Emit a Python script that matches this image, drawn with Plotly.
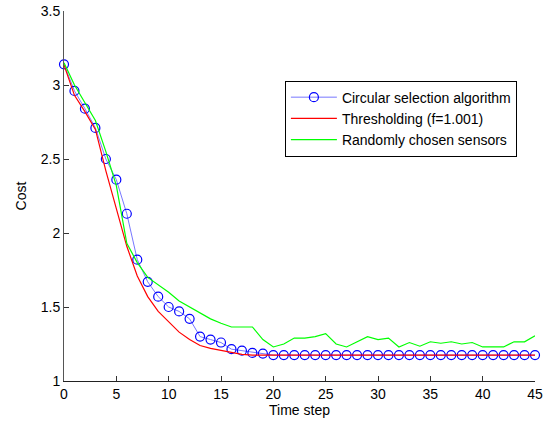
import plotly.graph_objects as go

time_steps = list(range(46))

circular = [3.14, 2.96, 2.84, 2.71, 2.50, 2.36, 2.13, 1.82, 1.67, 1.57,
            1.50, 1.47, 1.42, 1.30, 1.28, 1.26, 1.215, 1.205, 1.19, 1.185] + [1.175] * 26

thresholding = [3.135, 2.93, 2.82, 2.70, 2.42, 2.16, 1.91, 1.71, 1.57, 1.47,
                1.40, 1.33, 1.28, 1.24, 1.22, 1.205, 1.19, 1.18, 1.175] + [1.175] * 27

random_sensors = [3.15, 3.00, 2.88, 2.76, 2.55, 2.32, 1.93, 1.80, 1.70, 1.65,
                  1.60, 1.54, 1.50, 1.46, 1.42, 1.39, 1.365, 1.365, 1.365, 1.28,
                  1.23, 1.25, 1.29, 1.29, 1.30, 1.32, 1.25, 1.23, 1.265, 1.30,
                  1.28, 1.29, 1.23, 1.26, 1.235, 1.265, 1.255, 1.265, 1.25, 1.26,
                  1.23, 1.23, 1.23, 1.265, 1.265, 1.305]

x_ticks = [0, 5, 10, 15, 20, 25, 30, 35, 40, 45]
y_ticks = [1, 1.5, 2, 2.5, 3, 3.5]

fig = go.Figure()
fig.add_trace(go.Scatter(
    x=time_steps, y=circular, mode="lines+markers",
    name="Circular selection algorithm",
    line=dict(color="#7777ff", width=1),
    marker=dict(symbol="circle-open", size=9, color="#0000ff", line=dict(width=1.2)),
    cliponaxis=False,
))
fig.add_trace(go.Scatter(
    x=time_steps, y=thresholding, mode="lines",
    name="Thresholding (f=1.001)",
    line=dict(color="#ff0000", width=1.2),
    cliponaxis=False,
))
fig.add_trace(go.Scatter(
    x=time_steps, y=random_sensors, mode="lines",
    name="Randomly chosen sensors",
    line=dict(color="#00ff00", width=1.2),
    cliponaxis=False,
))

fig.update_layout(
    width=549, height=423,
    margin=dict(l=64, r=14, t=11, b=42, autoexpand=False),
    paper_bgcolor="white", plot_bgcolor="white",
    font=dict(family="Liberation Sans, Arial, sans-serif", size=14, color="#000000"),
    showlegend=True,
    legend=dict(
        x=0.469, y=0.812, xanchor="left", yanchor="top",
        bgcolor="white", bordercolor="#000000", borderwidth=1,
        font=dict(size=14), tracegroupgap=0, itemwidth=46,
    ),
    xaxis=dict(
        range=[0, 45], tickvals=x_ticks, ticks="inside", ticklen=5,
        tickcolor="#333333", showline=True, linecolor="#222222", linewidth=1,
        showgrid=False, zeroline=False, mirror=False, automargin=False,
        title=dict(text="Time step", standoff=0, font=dict(size=14)),
    ),
    yaxis=dict(
        range=[1, 3.5], tickvals=y_ticks, ticktext=["1", "1.5", "2", "2.5", "3", "3.5"],
        ticks="inside", ticklen=5,
        tickcolor="#333333", showline=True, linecolor="#555555", linewidth=1,
        showgrid=False, zeroline=False, mirror=False, automargin=False,
        title=dict(text="Cost", standoff=10, font=dict(size=14)),
    ),
)

fig.write_html(
    "out.html",
    config={"displayModeBar": False},
    post_script="document.body.style.margin='0';document.body.style.overflow='hidden';",
)
